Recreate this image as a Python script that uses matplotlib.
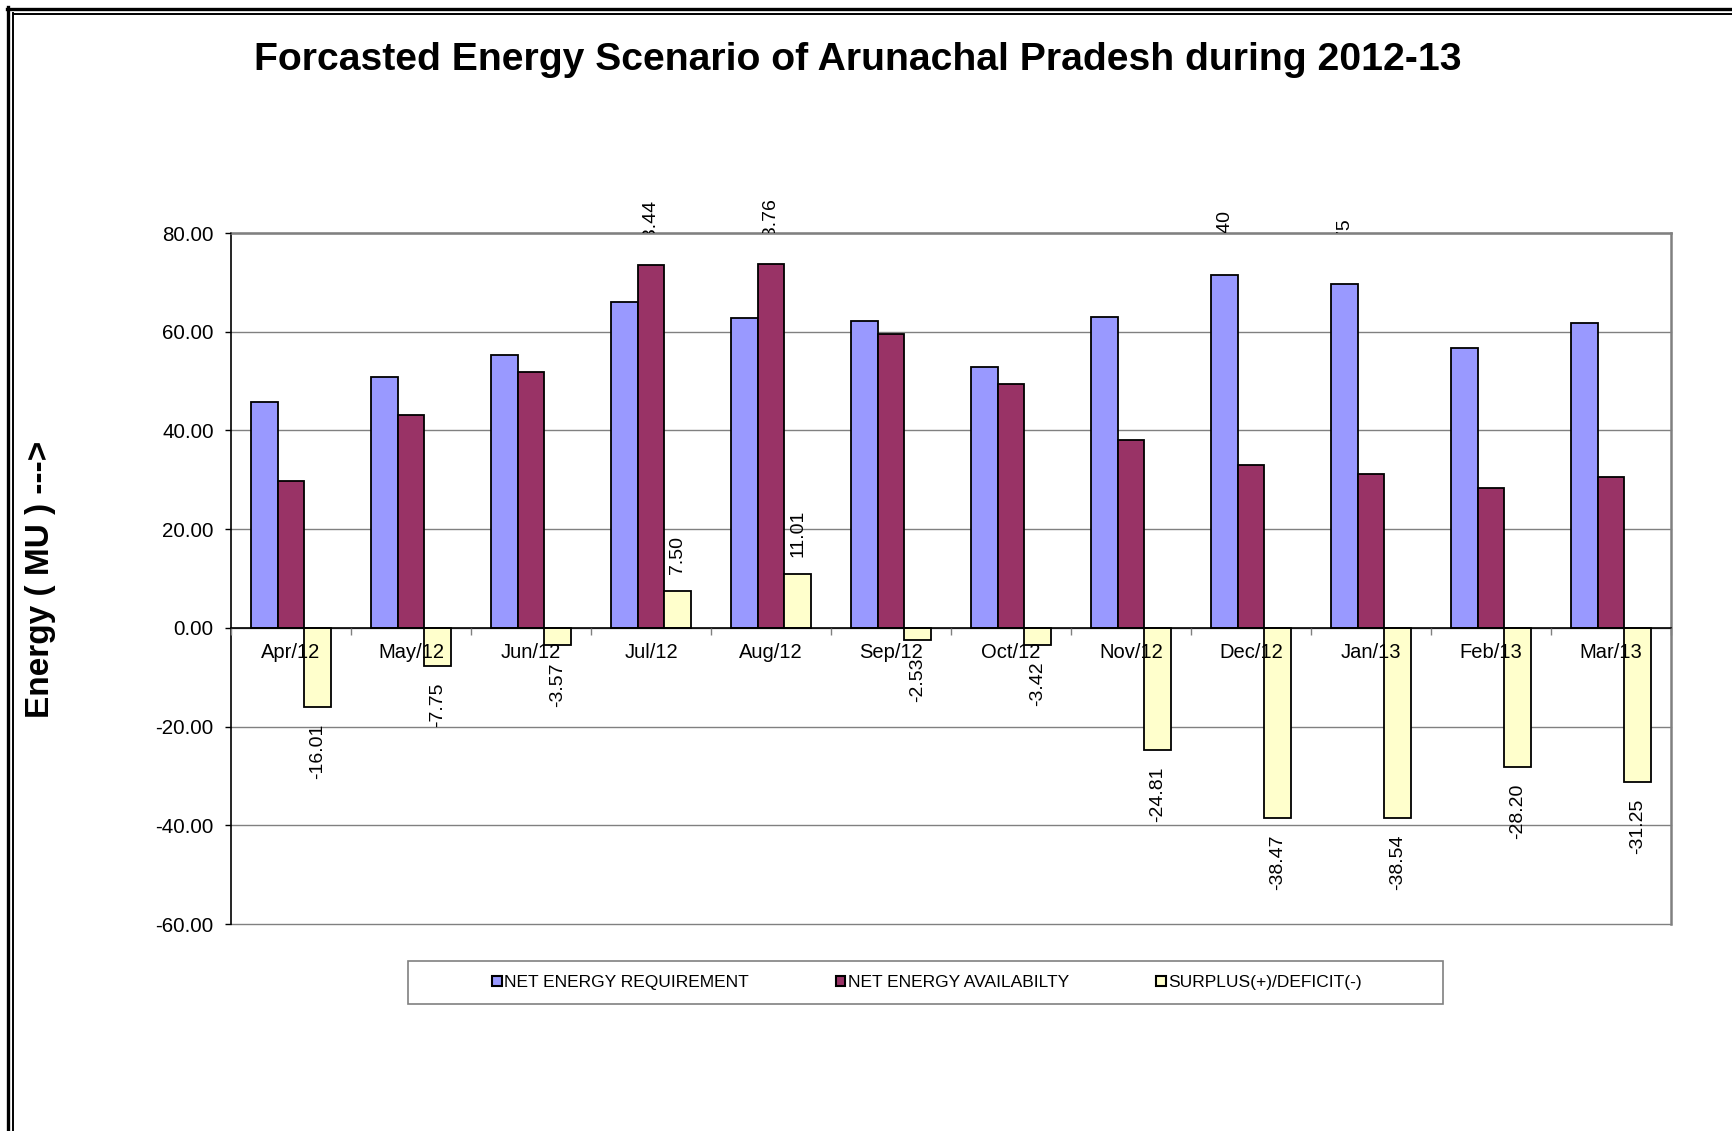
import matplotlib
matplotlib.use("Agg")
import matplotlib.pyplot as plt
import numpy as np
from matplotlib.patches import Rectangle
from matplotlib.lines import Line2D

plt.rcParams['font.family'] = ['Liberation Sans', 'DejaVu Sans']

months = ["Apr/12", "May/12", "Jun/12", "Jul/12", "Aug/12", "Sep/12",
          "Oct/12", "Nov/12", "Dec/12", "Jan/13", "Feb/13", "Mar/13"]
requirement = [45.85, 50.80, 55.35, 65.94, 62.75, 62.10, 52.90, 62.95, 71.40, 69.75, 56.60, 61.80]
availability = [29.84, 43.05, 51.78, 73.44, 73.76, 59.57, 49.48, 38.14, 32.93, 31.21, 28.40, 30.55]
surplus = [-16.01, -7.75, -3.57, 7.50, 11.01, -2.53, -3.42, -24.81, -38.47, -38.54, -28.20, -31.25]
series_names = ["NET ENERGY REQUIREMENT", "NET ENERGY AVAILABILTY", "SURPLUS(+)/DEFICIT(-)"]
colors = ["#9999FF", "#993366", "#FFFFCC"]
yticks = [-60, -40, -20, 0, 20, 40, 60, 80]

W, H = 1733, 1131
fig = plt.figure(figsize=(W / 100, H / 100), dpi=100)
ax_l, ax_r, ax_t, ax_b = 231 / W, 1671 / W, 1 - 233 / H, 1 - 924 / H
ax = fig.add_axes([ax_l, ax_b, ax_r - ax_l, ax_t - ax_b])

x = np.arange(len(months))
bw = 0.222
all_series = [requirement, availability, surplus]
for k, (vals, c) in enumerate(zip(all_series, colors)):
    ax.bar(x + (k - 1) * bw, vals, width=bw, color=c, edgecolor="black",
           linewidth=1.3, zorder=2)

ax.set_xlim(-0.5, len(months) - 0.5)
ax.set_ylim(-60, 80)
for yv in yticks:
    ax.axhline(yv, color="#808080", lw=1.0, zorder=0.5, clip_on=False)

ax.set_yticks(yticks)
ax.set_yticklabels([f"{v:.2f}" for v in yticks])
ax.tick_params(axis="y", direction="out", length=4, width=1, pad=8.5,
               color="black", labelsize=14.8)

ax.set_xticks(np.arange(-0.5, len(months), 1.0))
ax.set_xticklabels([])
ax.set_xticks(x, minor=True)
ax.set_xticklabels(months, minor=True)
ax.tick_params(axis="x", which="major", direction="out", length=5, width=1, color="#808080")
ax.tick_params(axis="x", which="minor", length=0, pad=11, labelsize=14.5)

ax.spines["bottom"].set_position(("data", 0))
ax.spines["bottom"].set_color("black")
ax.spines["bottom"].set_linewidth(1.2)
ax.spines["left"].set_color("black")
ax.spines["left"].set_linewidth(1.2)
for s in ["top", "right"]:
    ax.spines[s].set_color("#808080")
    ax.spines[s].set_linewidth(1.8)
ax.set_axisbelow(False)

# data labels
clip_rect = Rectangle((0, ax_t), 1, 1 - ax_t, transform=fig.transFigure)
for k, vals in enumerate(all_series):
    for i, v in enumerate(vals):
        off = 12 if v >= 0 else -12
        t = ax.annotate(f"{v:.2f}", (x[i] + (k - 1) * bw, v), xytext=(0, off),
                        textcoords="offset points", rotation=90, ha="center",
                        va="bottom" if v >= 0 else "top", fontsize=14,
                        zorder=5, annotation_clip=False)
        if k < 2:
            t.set_clip_on(True)
            t.set_clip_path(clip_rect)

# legend
fig.patches.append(Rectangle((408 / W, 1 - 1004 / H), 1035 / W, 43 / H,
                             transform=fig.transFigure, facecolor="white",
                             edgecolor="#808080", lw=1.2))
handles = [Rectangle((0, 0), 1, 1, facecolor=c, edgecolor="black", lw=1.5) for c in colors]
fig.legend(handles, series_names, loc="center", bbox_to_anchor=(927 / W, 1 - 982.5 / H),
           ncol=3, frameon=False, fontsize=12.5, handlelength=0.55, handleheight=0.55,
           handletextpad=0.15, columnspacing=5.0)

fig.text(858 / W, 1 - 60 / H, "Forcasted Energy Scenario of Arunachal Pradesh during 2012-13",
         ha="center", va="center", fontsize=28.2, fontweight="bold")
fig.text(41 / W, 1 - 579.5 / H, "Energy ( MU ) --->", rotation=90, ha="center",
         va="center", fontsize=24, fontweight="bold")

# double border (top & left)
fig.add_artist(Line2D([7 / W, 1], [1 - 8.5 / H, 1 - 8.5 / H], color="black", lw=2.4, transform=fig.transFigure))
fig.add_artist(Line2D([8.5 / W, 8.5 / W], [0, 1 - 7 / H], color="black", lw=2.4, transform=fig.transFigure))
fig.add_artist(Line2D([13 / W, 1], [1 - 13.5 / H, 1 - 13.5 / H], color="black", lw=1.4, transform=fig.transFigure))
fig.add_artist(Line2D([13.5 / W, 13.5 / W], [0, 1 - 13 / H], color="black", lw=1.4, transform=fig.transFigure))

fig.savefig("out.png", dpi=100)
